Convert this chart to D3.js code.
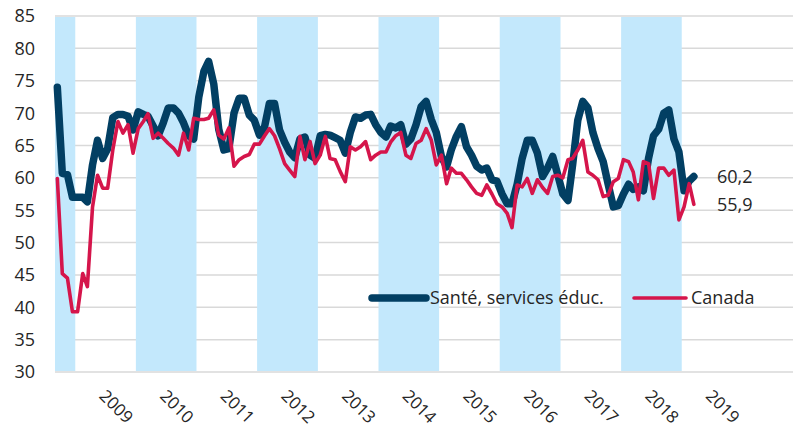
<!DOCTYPE html>
<html>
<head>
<meta charset="utf-8">
<script src="https://cdn.jsdelivr.net/npm/d3@7"></script>
<style>
  body { margin: 0; background: #fff; }
  svg { display: block; font-family: "Open Sans", "Noto Sans", sans-serif; }
</style>
</head>
<body>
<svg width="794" height="429"></svg>
<script>
// monthly values, first month = Sept 2008
firstMonth = new Date(2008, 8, 1);

sante = [74, 60.7, 60.5, 57, 57, 57, 56.3, 62, 65.8, 63, 64.5, 69.3,
  69.8, 69.8, 69.5, 67.4, 70.2, 69.8, 69.5, 68, 66.5, 68.5, 70.8, 70.8,
  70, 68.5, 66.5, 66, 72.5, 76.5, 78, 74.5, 67.5, 64.3, 64.5, 70,
  72.3, 72.3, 69.7, 68.9, 66.6, 67.9, 71.5, 71.5, 67.4, 65.5, 64, 63.1,
  66, 66.3, 63.5, 63, 66.5, 66.7, 66.6, 66.2, 65.8, 63.8, 67, 69.4,
  69.2, 69.7, 69.8, 68.2, 67, 66.3, 68, 67.7, 68.2, 65.2, 66, 68.2,
  71, 71.8, 69, 67, 63.3, 61.7, 64.3, 66.4, 67.9, 64.8, 63.5, 61.8,
  61.2, 61.5, 59.7, 59.5, 57.5, 56, 56, 59, 63, 65.8, 65.8, 63.8,
  60.2, 61.5, 63.3, 60.5, 57.5, 56.5, 62, 68.9, 71.8, 70.8, 67, 64.5,
  62.5, 59, 55.5, 55.7, 57.5, 59, 58.2, 58.6, 58, 63, 66.5, 67.5,
  70, 70.5, 66, 64, 58, 59.5, 60.2];

canada = [59.9, 45.2, 44.5, 39.3, 39.3, 45.2, 43.2, 55.5, 60.4, 58.4, 58.4, 64.3,
  68.7, 66.9, 68.2, 63.8, 67.6, 68.7, 69.9, 66.1, 66.9, 66.1, 65.3, 64.6,
  63.5, 66.9, 64.3, 69.2, 69, 69, 69.2, 70.5, 66.6, 66, 67.7, 61.8,
  62.8, 63.3, 63.6, 65.2, 65.2, 66.5, 67.6, 66.5, 64.5, 62.2, 61.2, 60.2,
  66.4, 62.8, 65.6, 62.2, 63.5, 66.4, 63, 62.8, 61, 59.4, 64.8, 64.3,
  64.8, 65.6, 62.8, 63.5, 64, 64, 65.5, 66.5, 67, 63.5, 63, 65.3,
  65.8, 67.6, 65.8, 62, 63.5, 59.1, 61.5, 60.7, 60.7, 59.7, 58.6, 57.6,
  57.3, 58.9, 57.5, 56, 55.5, 54.5, 52.3, 58.9, 58.6, 59.9, 57.6, 59.7,
  58.5, 57.6, 60.2, 60.4, 60, 62.8, 63, 64.3, 65.8, 60.9, 60.4, 59.7,
  57.1, 57.3, 59.4, 59.9, 62.8, 62.5, 60.9, 56.6, 62.5, 62.2, 56.8, 61.5,
  61.5, 60.4, 61.2, 53.5, 55.5, 59.1, 55.9];

yearLabels = [2009, 2010, 2011, 2012, 2013, 2014, 2015, 2016, 2017, 2018, 2019];
shadedYears = [2008, 2010, 2012, 2014, 2016, 2018];
yTicks = [30, 35, 40, 45, 50, 55, 60, 65, 70, 75, 80, 85];
endLabels = ["60,2", "55,9"];

seriesList = [
  {name: "Santé, services éduc.", values: sante, color: "#023f63", width: 7.5},
  {name: "Canada", values: canada, color: "#d5154b", width: 3.6}
];

// note: "top" is taken by window.top, so prefix these
plotLeft = 55; plotRight = 793; plotTop = 16; plotBottom = 372;

x = d3.scaleTime()
    .domain([firstMonth, new Date(2020, 10, 1)])
    .range([plotLeft, plotRight]);

y = d3.scaleLinear()
    .domain([30, 85])
    .range([plotBottom, plotTop]);

monthDate = i => new Date(2008, 8 + i, 15);

function draw() {
  const svg = d3.select("svg");

  // gridlines
  svg.append("g")
    .selectAll("line")
    .data(yTicks)
    .join("line")
      .attr("x1", plotLeft).attr("x2", plotRight)
      .attr("y1", d => y(d)).attr("y2", d => y(d))
      .attr("stroke", "#d9d9d9")
      .attr("stroke-width", 1.5);

  // alternating year bands
  svg.append("g")
    .selectAll("rect")
    .data(shadedYears)
    .join("rect")
      .attr("x", d => Math.max(plotLeft, x(new Date(d, 0, 1))))
      .attr("width", d => x(new Date(d + 1, 0, 1)) - Math.max(plotLeft, x(new Date(d, 0, 1))))
      .attr("y", y(85) + 1)
      .attr("height", y(30) - y(85) - 2)
      .attr("fill", "#c3e8fc");

  // y labels
  svg.append("g")
      .attr("text-anchor", "end")
      .style("font-size", "18px")
      .attr("fill", "#262626")
    .selectAll("text")
    .data(yTicks)
    .join("text")
      .attr("x", 35)
      .attr("y", d => y(d))
      .attr("dy", "0.36em")
      .text(d => d);

  // x labels, rotated
  svg.append("g")
      .style("font-size", "17px")
      .attr("fill", "#262626")
    .selectAll("text")
    .data(yearLabels)
    .join("text")
      .attr("transform", d => `translate(${x(new Date(d, 6, 1)) - 7},397) rotate(45)`)
      .text(d => d);

  const line = d3.line()
      .x((d, i) => x(monthDate(i)))
      .y(d => y(d));

  svg.append("g")
      .attr("fill", "none")
      .attr("stroke-linejoin", "round")
      .attr("stroke-linecap", "round")
    .selectAll("path")
    .data(seriesList)
    .join("path")
      .attr("stroke", d => d.color)
      .attr("stroke-width", d => d.width)
      .attr("d", d => line(d.values));

  // last values
  svg.append("g")
      .style("font-size", "18px")
      .attr("fill", "#262626")
    .selectAll("text")
    .data(seriesList)
    .join("text")
      .attr("x", 717)
      .attr("y", d => y(d.values[d.values.length - 1]))
      .attr("dy", "0.36em")
      .text((d, i) => endLabels[i]);

  // legend
  const legendPos = [372, 634];
  const leg = svg.append("g")
    .selectAll("g")
    .data(seriesList)
    .join("g")
      .attr("transform", (d, i) => `translate(${legendPos[i]},298)`);
  leg.append("line")
      .attr("x1", 0).attr("x2", (d, i) => i ? 52 : 54)
      .attr("stroke", d => d.color)
      .attr("stroke-width", d => d.width)
      .attr("stroke-linecap", "round");
  leg.append("text")
      .attr("x", (d, i) => i ? 57 : 58)
      .attr("dy", "0.36em")
      .style("font-size", "18px")
      .attr("fill", "#262626")
      .text(d => d.name);
}
draw();
</script>
</body>
</html>
